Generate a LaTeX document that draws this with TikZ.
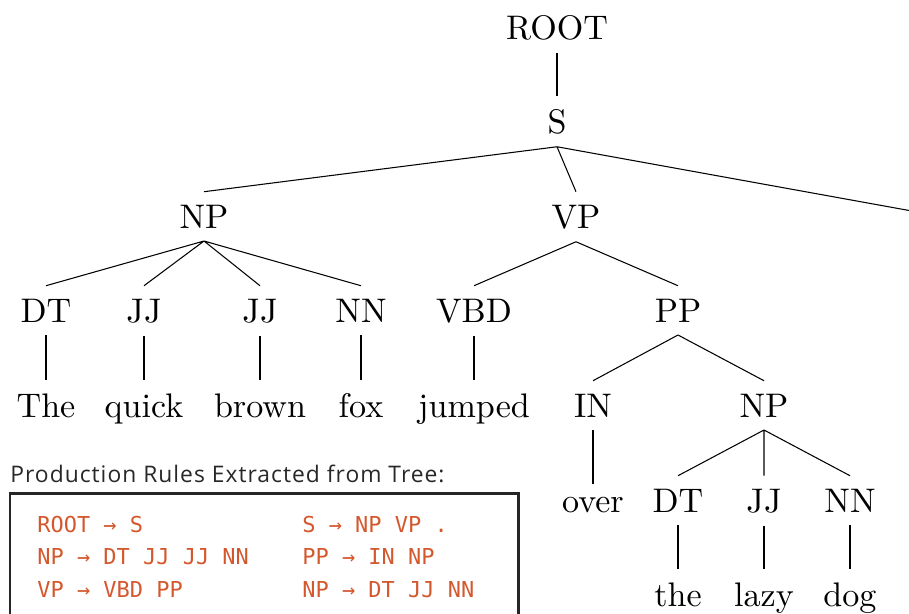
\documentclass[tikz,border=0pt]{standalone}
\usepackage{fontspec}
\newfontfamily\treefont{lmroman10-regular}[Extension=.otf]
\newfontfamily\rulefont{DejaVu Sans Mono}
\newfontfamily\titlefont{Open Sans}[LetterSpace=4.4]
\definecolor{rulered}{RGB}{212,88,46}
\definecolor{titlegray}{RGB}{40,40,40}
\tikzset{
	tag/.style={anchor=base, inner sep=7.2pt, font=\treefont\fontsize{19.4}{23}\selectfont},
	branch/.style={line width=0.6pt},
	prod/.style={anchor=base west, inner sep=0pt, text=rulered, font=\rulefont\fontsize{12.5}{15}\selectfont}
}
\begin{document}
\begin{tikzpicture}[x=0.02cm, y=-0.02cm]
			\useasboundingbox (0, 0) rectangle (909, 613);
			\clip (0, 0) rectangle (909, 613);
			% tree
			\node[tag] (root) at (557, 39) {ROOT};
			\node[tag] (s) at (557, 133) {S};
			\node[tag] (np) at (204, 228) {NP};
			\node[tag] (vp) at (576, 228) {VP};
			\coordinate (dot) at (912, 211);
			\node[tag] (dt) at (46, 322) {DT};
			\node[tag] (jja) at (144, 322) {JJ};
			\node[tag] (jjb) at (260, 322) {JJ};
			\node[tag] (nn) at (361, 322) {NN};
			\node[tag] (vbd) at (474, 322) {VBD};
			\node[tag] (pp) at (678, 322) {PP};
			\node[tag] (the) at (46, 417) {The};
			\node[tag] (quick) at (144, 417) {quick};
			\node[tag] (brown) at (260, 417) {brown};
			\node[tag] (fox) at (361, 417) {fox};
			\node[tag] (jumped) at (474, 417) {jumped};
			\node[tag] (in) at (593, 417) {IN};
			\node[tag] (npb) at (764, 417) {NP};
			\node[tag] (over) at (593, 512) {over};
			\node[tag] (dtb) at (678, 512) {DT};
			\node[tag] (jjc) at (764, 512) {JJ};
			\node[tag] (nnb) at (850, 512) {NN};
			\node[tag] (theb) at (678, 606) {the};
			\node[tag] (lazy) at (764, 606) {lazy};
			\node[tag] (dog) at (850, 606) {dog};
			\draw[branch] (root.south) -- (s.north);
			\draw[branch] (s.south) -- (np.north) (s.south) -- (vp.north) (s.south) -- (dot);
			\draw[branch] (np.south) -- (dt.north) (np.south) -- (jja.north) (np.south) -- (jjb.north) (np.south) -- (nn.north);
			\draw[branch] (vp.south) -- (vbd.north) (vp.south) -- (pp.north);
			\draw[branch] (dt.south) -- (the.north);
			\draw[branch] (jja.south) -- (quick.north);
			\draw[branch] (jjb.south) -- (brown.north);
			\draw[branch] (nn.south) -- (fox.north);
			\draw[branch] (vbd.south) -- (jumped.north);
			\draw[branch] (pp.south) -- (in.north) (pp.south) -- (npb.north);
			\draw[branch] (in.south) -- (over.north);
			\draw[branch] (npb.south) -- (dtb.north) (npb.south) -- (jjc.north) (npb.south) -- (nnb.north);
			\draw[branch] (dtb.south) -- (theb.north);
			\draw[branch] (jjc.south) -- (lazy.north);
			\draw[branch] (nnb.south) -- (dog.north);
			% production rules
			\node[anchor=base west, inner sep=0pt, text=titlegray, font=\titlefont\fontsize{13}{15}\selectfont] (title) at (10, 482) {Production Rules Extracted from Tree:};
			\draw[line width=1.7pt, black!85] (10, 493) rectangle (518, 660);
			\node[prod] (ra) at (37, 532) {ROOT → S};
			\node[prod] (rb) at (37, 564) {NP → DT JJ JJ NN};
			\node[prod] (rc) at (37, 597) {VP → VBD PP};
			\node[prod] (rd) at (302, 532) {S → NP VP .};
			\node[prod] (re) at (302, 564) {PP → IN NP};
			\node[prod] (rf) at (302, 597) {NP → DT JJ NN};
		\end{tikzpicture}
\end{document}
